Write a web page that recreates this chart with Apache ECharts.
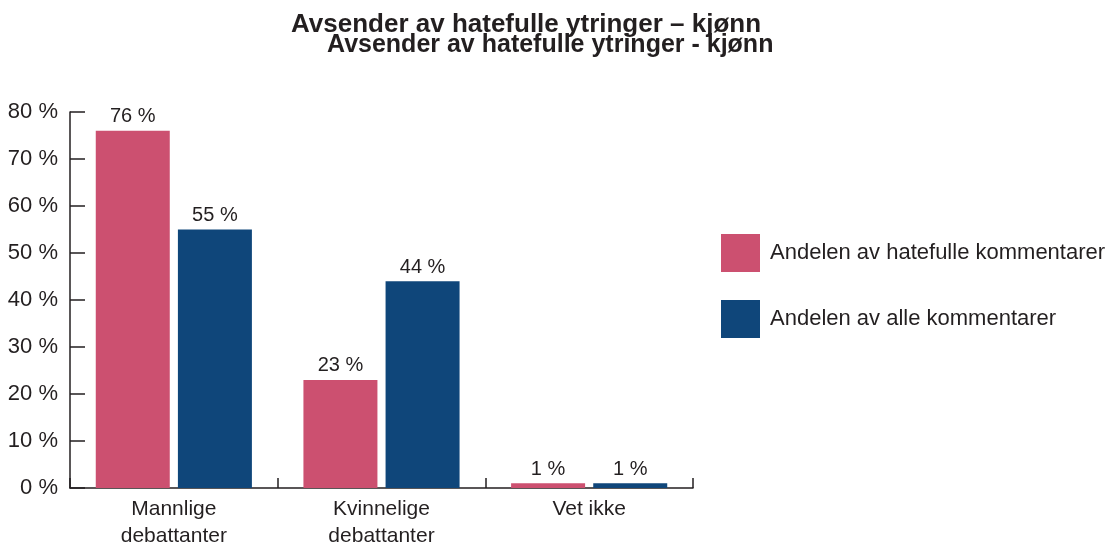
<!DOCTYPE html>
<html>
<head>
<meta charset="utf-8">
<script src="https://cdn.jsdelivr.net/npm/echarts@6/dist/echarts.min.js"></script>
<style>
  html, body { margin: 0; padding: 0; background: #fff; }
  #chart { width: 1111px; height: 544px; }
</style>
</head>
<body>
<div id="chart"></div>
<script>
// data
const categories = ['Mannlige\ndebattanter', 'Kvinnelige\ndebattanter', 'Vet ikke']
const hatefulle = [76, 23, 1]   // Andelen av hatefulle kommentarer
const alle = [55, 44, 1]        // Andelen av alle kommentarer
const seriesNames = ['Andelen av hatefulle kommentarer', 'Andelen av alle kommentarer']

const textColor = '#231f20'
const font = 'Liberation Sans, Arial, sans-serif'

const chart = echarts.init(document.getElementById('chart'))

const barLabel = {
  show: true,
  position: 'top',
  distance: 4,
  formatter: '{c} %',
  color: textColor,
  fontSize: 20,
  fontFamily: font
}

chart.setOption({
  animation: false,
  textStyle: { fontFamily: font, color: textColor },
  title: [
    {
      text: 'Avsender av hatefulle ytringer \u2013 kjønn',
      left: 291, top: 12, padding: 0,
      textStyle: { fontSize: 26, fontWeight: 'bold', color: textColor, fontFamily: font }
    },
    {
      text: 'Avsender av hatefulle ytringer - kjønn',
      left: 327, top: 33, padding: 0,
      textStyle: { fontSize: 25, fontWeight: 'bold', color: textColor, fontFamily: font }
    }
  ],
  legend: {
    orient: 'vertical',
    left: 721,
    top: 234,
    padding: 0,
    itemWidth: 39,
    itemHeight: 38,
    itemGap: 28,
    icon: 'rect',
    data: seriesNames,
    textStyle: { fontSize: 22, color: textColor, fontFamily: font, padding: [0, 0, 0, 5] }
  },
  grid: { left: 70, right: 418, top: 112, bottom: 56, outerBoundsMode: 'none', containLabel: false },
  xAxis: {
    type: 'category',
    data: categories,
    axisLine: { lineStyle: { color: textColor, width: 1.5 } },
    axisTick: { show: true, interval: 0, inside: true, length: 10, lineStyle: { color: textColor, width: 1.5 } },
    axisLabel: { fontSize: 21, color: textColor, margin: 8, lineHeight: 27, fontFamily: font }
  },
  yAxis: {
    type: 'value',
    min: 0,
    max: 80,
    interval: 10,
    splitLine: { show: false },
    axisLine: { show: true, lineStyle: { color: textColor, width: 1.5 } },
    axisTick: { show: true, inside: true, length: 15, lineStyle: { color: textColor, width: 1.5 } },
    axisLabel: { formatter: '{value} %', fontSize: 22, color: textColor, margin: 12, padding: [5, 0, 0, 0], fontFamily: font }
  },
  series: [
    {
      name: seriesNames[0],
      type: 'bar',
      data: hatefulle,
      barWidth: 74,
      barGap: '11%',
      itemStyle: { color: '#cc5070' },
      label: barLabel
    },
    {
      name: seriesNames[1],
      type: 'bar',
      data: alle,
      barWidth: 74,
      itemStyle: { color: '#0f467a' },
      label: barLabel
    }
  ]
})
</script>
</body>
</html>
